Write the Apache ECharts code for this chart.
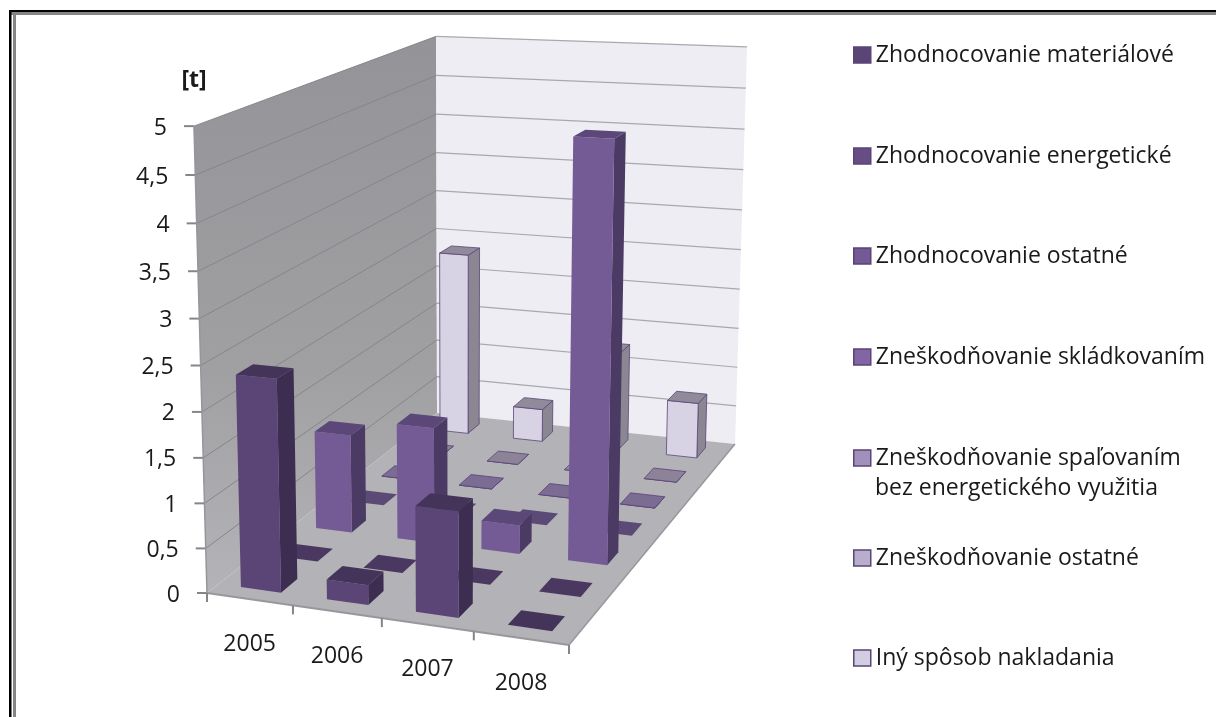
<!DOCTYPE html>
<html><head><meta charset="utf-8">
<style>html,body{margin:0;padding:0;background:#fff}#c{width:1216px;height:717px}</style>
<script src="https://cdn.jsdelivr.net/npm/echarts@6/dist/echarts.min.js"></script>
</head><body><div id="c"></div>
<script>
// ---- data ----
const years = ['2005','2006','2007','2008'];
const yTicks = [0,0.5,1,1.5,2,2.5,3,3.5,4,4.5,5];
const zhodnocovanieMaterialove = [2.35,0.22,1.15,0];
const zhodnocovanieEnergeticke = [0,0,0,0];
const zhodnocovanieOstatne = [1.15,1.34,0.33,4.67];
const zneskodnovanieSkladkovanim = [0,0,0,0];
const zneskodnovanieSpalovanim = [0,0,0,0];
const zneskodnovanieOstatne = [0,0,0,0];
const inySposob = [2.35,0.42,1.25,0.7];
const seriesNames = ['Zhodnocovanie materiálové','Zhodnocovanie energetické','Zhodnocovanie ostatné','Zneškodňovanie skládkovaním','Zneškodňovanie spaľovaním bez energetického využitia','Zneškodňovanie ostatné','Iný spôsob nakladania'];
const seriesValues = [zhodnocovanieMaterialove,zhodnocovanieEnergeticke,zhodnocovanieOstatne,zneskodnovanieSkladkovanim,zneskodnovanieSpalovanim,zneskodnovanieOstatne,inySposob];

// ---- styling ----
const legendCol= ['#5b4476','#664e84','#745a95','#8265a5','#a090bb','#b8adcc','#d2cde0'];
const frontCol = ['#5b4476','#634b80','#755b96','#8265a5','#9d8db8','#b6abc9','#d8d3e4'];
const sideCol  = ['#3d2d50','#433357','#4b3a63','#54426d','#8a829a','#8a8694','#8a8793'];
const topCol   = ['#453459','#4a3860','#5c4779','#5b4a76','#7a6c92','#8c8399','#908b9a'];
const legendCenter = [55,156,256,357,458,558,658];
const LEGEND_LEFT = 853;
const BAR_W = 0.47, BAR_D = 0.43, BAR_TAPER = 0.03;
const FONT = '"Open Sans", sans-serif';
const LEG_SIZE = 23, AXIS_SIZE = 23;

// ---- perspective set up from the box corners ----
const Q = {fl:[207,593], fr:[569,645], bl:[437,413], br:[735,444], tfl:[193,123], tbl:[437,35], tbr:[747,51]};
function solve(A,b){const n=b.length,M=A.map((r,i)=>[...r,b[i]]);
  for(let i=0;i<n;i++){let p=i;for(let k=i+1;k<n;k++)if(Math.abs(M[k][i])>Math.abs(M[p][i]))p=k;[M[i],M[p]]=[M[p],M[i]];
    for(let k=0;k<n;k++){if(k===i)continue;const f=M[k][i]/M[i][i];for(let j=i;j<=n;j++)M[k][j]-=f*M[i][j];}}
  return M.map((r,i)=>r[n]/r[i]);}
const H=(function(){const pts=[[0,0,Q.fl],[1,0,Q.fr],[0,1,Q.bl],[1,1,Q.br]],A=[],b=[];
  pts.forEach(([x,d,[X,Y]])=>{A.push([x,d,1,0,0,0,-x*X,-d*X]);b.push(X);A.push([0,0,0,x,d,1,-x*Y,-d*Y]);b.push(Y);});
  const s=solve(A,b);return[[s[0],s[1],s[2]],[s[3],s[4],s[5]],[s[6],s[7],1]];})();
const floorH=(x,d)=>H.map(r=>r[0]*x+r[1]*d+r[2]);
const V=(function(){const eq=[],rhs=[];
  [[0,0,Q.tfl],[0,1,Q.tbl],[1,1,Q.tbr]].forEach(([x,d,[X,Y]])=>{const [u,v,w]=floorH(x,d);
    eq.push([1,0,-X]);rhs.push(X*w-u);eq.push([0,1,-Y]);rhs.push(Y*w-v);});
  const N=[0,1,2].map(i=>[0,1,2].map(j=>eq.reduce((s,e)=>s+e[i]*e[j],0)));
  const c=[0,1,2].map(i=>eq.reduce((s,e,k)=>s+e[i]*rhs[k],0));
  return solve(N,c);})();
function proj(x,d,h){const [u,v,w]=floorH(x,d);const W=w+h*V[2];return[(u+h*V[0])/W,(v+h*V[1])/W];}

// fractions of the box, read through the hidden axes' own scales
function frac(api,cs,cat,val){const p=api.coord([cat,val]);return[(p[0]-cs.x)/cs.width,(cs.y+cs.height-p[1])/cs.height];}
const poly=(points,fill,stroke,lw)=>({type:'polygon',shape:{points},style:{fill,stroke:stroke||null,lineWidth:lw||0}});
const line=(a,b,stroke,lw)=>({type:'line',shape:{x1:a[0],y1:a[1],x2:b[0],y2:b[1]},style:{stroke,lineWidth:lw}});
const label=(x,y,text,align,font)=>({type:'text',x,y,style:{text,x:0,y:0,align,verticalAlign:'middle',fill:'#1a1a1a',font}});

function renderBox(params,api){
  const cs=params.coordSys,row=7-params.seriesIndex;   // row 0 = front
  const [cx,h]=frac(api,cs,api.value(0),api.value(1));
  const hw=BAR_W/8*(1-BAR_TAPER*row),x0=cx-hw,x1=cx+hw,d0=(row+.5-BAR_D/2)/7,d1=(row+.5+BAR_D/2)/7;
  const a=proj(x0,d0,0),b=proj(x1,d0,0),c=proj(x1,d1,0);
  const e=proj(x0,d0,h),f=proj(x1,d0,h),g=proj(x1,d1,h),k=proj(x0,d1,h);
  const st=row>=4?'#5b4476':null,lw=row>=4?0.8:0;
  return {type:'group',children:[
    poly([b,c,g,f],sideCol[row],st,lw),
    poly([a,b,f,e],frontCol[row],st,lw),
    poly([e,f,g,k],topCol[row],st,lw)
  ]};
}

function renderFrame(params,api){
  const cs=params.coordSys,ch=[];
  const wallGrad={type:'linear',x:0,y:0,x2:0,y2:1,colorStops:[{offset:0,color:'#949397'},{offset:.6,color:'#a0a0a3'},{offset:1,color:'#b4b3b7'}]};
  ch.push(poly([proj(0,0,0),proj(0,1,0),proj(0,1,1),proj(0,0,1)],wallGrad));
  ch.push(poly([proj(0,1,0),proj(1,1,0),proj(1,1,1),proj(0,1,1)],'#eeedf3'));
  ch.push(poly([proj(0,0,0),proj(1,0,0),proj(1,1,0),proj(0,1,0)],'#b3b2b7'));
  yTicks.forEach(t=>{
    const h=frac(api,cs,0,t)[1];
    const p=proj(0,0,h),q=proj(0,1,h),r=proj(1,1,h);
    if(t>0){ch.push(line(p,q,'#86858a',1));}
    if(t>0){ch.push(line(q,r,'#a9a8ad',1.2));}
    ch.push(line([p[0]-10,p[1]],p,'#86868a',2));
    ch.push(label(p[0]-27,p[1]+2,String(t).replace('.',','),'right',AXIS_SIZE+'px '+FONT));
  });
  ch.push(line(proj(0,0,0),proj(0,0,1),'#96959a',1.5));
  ch.push(line(proj(0,0,0),proj(1,0,0),'#98979c',2));
  ch.push(line(proj(1,0,0),proj(1,1,0),'#98979c',1.5));
  [0,1,2,3,4].forEach(i=>{const p=proj(i/4,0,0);ch.push(line(p,[p[0],p[1]+9],'#86868a',2));});
  years.forEach((y,i)=>{const cx=frac(api,cs,i,0)[0],p=proj(cx,0,0);ch.push(label(p[0],p[1]+45,y,'center',AXIS_SIZE+'px '+FONT));});
  ch.push(label(194,80,'[t]','center','bold 23px '+FONT));
  return {type:'group',children:ch};
}

const common={type:'custom',coordinateSystem:'cartesian2d',clip:false,silent:true,encode:{x:0,y:1},animation:false};
const order=[6,5,4,3,2,1,0];
const option={
  animation:false,backgroundColor:'#fff',
  grid:{left:0,right:0,top:0,bottom:0,containLabel:false},
  xAxis:{type:'category',data:years,show:false},
  yAxis:{type:'value',min:0,max:5,interval:0.5,show:false},
  legend:seriesNames.map((n,i)=>({
    data:[{name:n,icon:'rect'}],left:LEGEND_LEFT,top:legendCenter[i]-15,selectedMode:false,itemWidth:17,itemHeight:16,padding:0,
    formatter:s=>s.replace(' bez energetického využitia',''),
    itemStyle:{color:legendCol[i],borderColor:'#5b4476',borderWidth:1.5},
    textStyle:{fontFamily:FONT,fontSize:LEG_SIZE,color:'#1a1a1a',lineHeight:30}
  })),
  graphic:[
    {type:'rect',shape:{x:9,y:10,width:1207,height:2},style:{fill:'#000'},silent:true},
    {type:'rect',shape:{x:9,y:12,width:1207,height:3},style:{fill:'#858585'},silent:true},
    {type:'rect',shape:{x:9,y:10,width:2.5,height:707},style:{fill:'#000'},silent:true},
    {type:'rect',shape:{x:13,y:12,width:3,height:705},style:{fill:'#858585'},silent:true},
    {type:'text',x:875,y:488,style:{text:'bez energetického využitia',verticalAlign:'middle',fill:'#1a1a1a',font:LEG_SIZE+'px '+FONT},silent:true}
  ],
  series:[Object.assign({},common,{name:'frame',z:1,data:[[0,0]],renderItem:renderFrame})].concat(
    order.map(i=>Object.assign({},common,{name:seriesNames[i],z:2,itemStyle:{color:frontCol[i]},
      data:years.map((y,j)=>[j,seriesValues[i][j]]),renderItem:renderBox})))
};
echarts.init(document.getElementById('c'),null,{renderer:'canvas'}).setOption(option);
</script></body></html>
